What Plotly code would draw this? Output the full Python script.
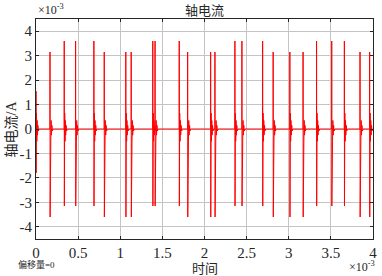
import plotly.graph_objects as go

# spike event times (x10^-3 s) and peak values (x10^-3 A)
spike_times = [0.0, 0.166, 0.335, 0.47, 0.687, 0.81, 1.066, 1.13, 1.386, 1.413,
               1.70, 1.80, 2.073, 2.124, 2.361, 2.444, 2.69, 2.815, 3.013, 3.17,
               3.33, 3.51, 3.66, 3.846, 3.96]
spike_up = [1.55, 3.15, 3.6, 3.6, 3.6, 3.15, 3.15, 3.15, 3.6, 3.6,
            3.6, 3.15, 3.15, 3.15, 3.6, 3.6, 3.6, 3.15, 3.15, 3.15,
            3.6, 3.6, 3.6, 3.15, 3.15]
spike_down = [-1.8, -3.6, -3.15, -3.15, -3.15, -3.6, -3.6, -3.6, -3.15, -3.15,
              -3.15, -3.6, -3.6, -3.6, -3.15, -3.15, -3.15, -3.6, -3.6, -3.6,
              -3.15, -3.15, -3.15, -3.6, -3.6]
# ringing after each spike (relative offsets in x10^-3 s, values in x10^-3 A)
ring_dt = [0.004, 0.008, 0.012, 0.016, 0.021, 0.027, 0.034]
ring_val = [0.65, -0.5, 0.35, -0.25, 0.15, -0.08, 0.0]

x_ticks = [0, 0.5, 1, 1.5, 2, 2.5, 3, 3.5, 4]
x_labels = ["0", "0.5", "1", "1.5", "2", "2.5", "3", "3.5", "4"]
y_ticks = [-4, -3, -2, -1, 0, 1, 2, 3, 4]
y_labels = ["-4", "-3", "-2", "-1", "0", "1", "2", "3", "4"]

xs, ys = [0.0], [0.0]
for t, u, d in zip(spike_times, spike_up, spike_down):
    if t > 0:
        xs.append(t - 0.0005); ys.append(0.0)
    xs.append(t); ys.append(u)
    xs.append(t + 0.0015); ys.append(d)
    for dt, v in zip(ring_dt, ring_val):
        xs.append(t + 0.0015 + dt); ys.append(v)
xs.append(4.0); ys.append(0.0)

FONT = "Liberation Serif, Times New Roman, DejaVu Serif, Noto Sans CJK SC"

fig = go.Figure()
fig.add_trace(go.Scatter(x=xs, y=ys, mode="lines",
                         line=dict(color="#ff0000", width=1), showlegend=False))

axis_common = dict(showline=True, linecolor="#262626", linewidth=1, mirror="ticks",
                   ticks="inside", ticklen=3, tickcolor="#262626", automargin=False,
                   showgrid=True, gridcolor="#c4c4c4", gridwidth=1, zeroline=False,
                   tickfont=dict(family=FONT, size=15, color="#262626"))

fig.update_layout(
    width=382, height=276, autosize=False,
    margin=dict(l=36, r=9, t=19, b=37, pad=0),
    paper_bgcolor="white", plot_bgcolor="white",
    font=dict(family=FONT, color="#262626"),
    xaxis=dict(range=[0, 4], tickvals=x_ticks, ticktext=x_labels, **axis_common),
    yaxis=dict(range=[-4.5, 4.5], tickvals=y_ticks, ticktext=y_labels, **axis_common),
    annotations=[
        dict(text="轴电流", x=0.5, y=1, xref="paper", yref="paper", xanchor="center",
             yanchor="bottom", yshift=-1, showarrow=False, font=dict(size=13, family=FONT)),
        dict(text="时间", x=0.5, y=0, xref="paper", yref="paper", xanchor="center",
             yanchor="top", yshift=-20, showarrow=False, font=dict(size=13, family=FONT)),
        dict(text="轴电流/A", x=0, y=0.5, xref="paper", yref="paper", xanchor="right",
             yanchor="middle", xshift=-16, textangle=-90, showarrow=False,
             font=dict(size=14, family=FONT)),
        dict(text="×10<sup>-3</sup>", x=0, y=1, xref="paper", yref="paper", xanchor="left",
             yanchor="bottom", yshift=0, showarrow=False, font=dict(size=12, family=FONT)),
        dict(text="×10<sup>-3</sup>", x=1, y=0, xref="paper", yref="paper", xanchor="right",
             yanchor="top", yshift=-18, xshift=4, showarrow=False, font=dict(size=12, family=FONT)),
        dict(text="偏移量=0", x=0, y=0, xref="paper", yref="paper", xanchor="center",
             yanchor="top", yshift=-18, xshift=0, showarrow=False, font=dict(size=9, family=FONT)),
    ],
)

fig.write_html("out.html", config={"responsive": False, "displayModeBar": False},
               post_script="document.body.style.margin='0';document.body.style.overflow='hidden';")
